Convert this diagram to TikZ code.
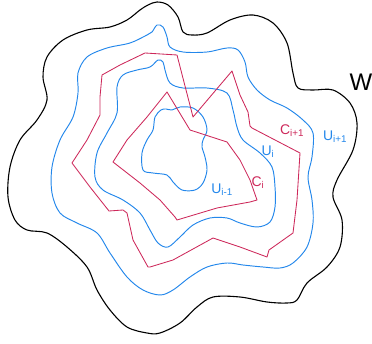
\documentclass[tikz,border=0pt]{standalone}
\usepackage{fontspec}
\setmainfont{Liberation Sans}
\definecolor{ublue}{RGB}{35,135,235}
\definecolor{cred}{RGB}{205,40,90}
\tikzset{
  wcurve/.style={black,line width=1.1pt,line join=round},
  ucurve/.style={ublue,line width=0.95pt,line join=round},
  ccurve/.style={cred,line width=0.85pt,line join=round},
  ulab/.style={text=ublue,font=\fontsize{14}{14}\selectfont,inner sep=0pt},
  clab/.style={text=cred,font=\fontsize{14}{14}\selectfont,inner sep=0pt},
}
\begin{document}
\begin{tikzpicture}[x=1pt,y=-1pt]
\useasboundingbox (0,0) rectangle (372,344);
% W
\draw[wcurve] plot[smooth cycle,tension=0.55] coordinates {
(148,5)(157,2)(168,5)(178,17)(183,32)(192,35)(207,33)(230,20)(253,15)(273,23)(287,43)(293,73)(298,88)(313,90)(333,90)(350,103)(357,123)(353,150)(337,180)(333,197)(342,220)(340,247)(327,267)(307,283)(297,300)(287,303)(267,302)(240,297)(213,297)(197,307)(180,323)(160,333)(147,333)(127,327)(110,310)(97,290)(87,267)(67,247)(47,233)(27,230)(15,220)(8,197)(10,167)(20,140)(37,120)(47,100)(43,77)(47,57)(63,40)(87,30)(110,27)(127,20)(140,10)};
% U_{i+1}
\draw[ucurve] plot[smooth cycle,tension=0.55] coordinates {
(152,32)(157,25)(163,27)(167,37)(170,47)(183,52)(207,52)(227,48)(238,50)(245,62)(248,77)(257,90)(270,100)(287,108)(303,120)(313,133)(312,157)(308,177)(312,200)(313,223)(307,247)(293,263)(280,268)(263,267)(243,265)(227,263)(207,267)(190,277)(173,290)(160,295)(143,290)(127,277)(110,253)(97,233)(77,223)(60,213)(52,193)(52,167)(60,140)(73,117)(78,93)(78,73)(87,57)(107,48)(130,43)(147,35)};
% U_i
\draw[ucurve] plot[smooth cycle,tension=0.55] coordinates {
(158,60)(163,62)(165,70)(170,83)(183,88)(207,88)(227,93)(233,110)(237,127)(243,140)(260,153)(272,167)(275,187)(275,207)(270,222)(257,227)(240,223)(227,218)(210,218)(193,225)(180,237)(168,247)(158,243)(150,230)(140,213)(123,200)(103,190)(95,177)(97,153)(107,133)(117,113)(117,87)(123,75)(137,70)(150,67)};
% U_{i-1}
\draw[ucurve] plot[smooth cycle,tension=0.55] coordinates {
(166,109)(172,110)(180,107)(193,108)(203,117)(207,130)(203,140)(202,147)(205,157)(207,170)(203,183)(195,190)(182,190)(173,182)(167,175)(153,173)(143,170)(142,153)(147,140)(153,130)(155,117)(161,110)};
% C_{i+1}
\draw[ccurve] (145,53) -- (177,55) -- (193,117) -- (232,71) -- (240,95) -- (248,112) -- (250,126) -- (252,128) -- (300,153) -- (297,200) -- (293,233) -- (269,250) -- (267,257) -- (240,247) -- (213,238) -- (173,260) -- (150,267) -- (148,267) -- (133,240) -- (127,213) -- (123,210) -- (109,211) -- (90,187) -- (72,163) -- (87,140) -- (100,115) -- (100,97) -- (102,75) -- (120,65) -- cycle;
% C_i
\draw[ccurve] (167,92) -- (190,130) -- (227,142) -- (240,160) -- (250,180) -- (257,200) -- (250,202) -- (217,208) -- (177,220) -- (175,217) -- (160,200) -- (140,183) -- (113,162) -- (127,140) -- (147,117) -- cycle;
% labels
\node[font=\fontsize{24}{24}\selectfont,inner sep=0pt] (w) at (361,82) {W};
\node[ulab] (uip) at (335,137) {U\textsubscript{i+1}};
\node[clab] (cip) at (292,131) {C\textsubscript{i+1}};
\node[ulab] (ui) at (268,152) {U\textsubscript{i}};
\node[clab] (ci) at (258,183) {C\textsubscript{i}};
\node[ulab] (uim) at (222,190) {U\textsubscript{i-1}};
\end{tikzpicture}
\end{document}
